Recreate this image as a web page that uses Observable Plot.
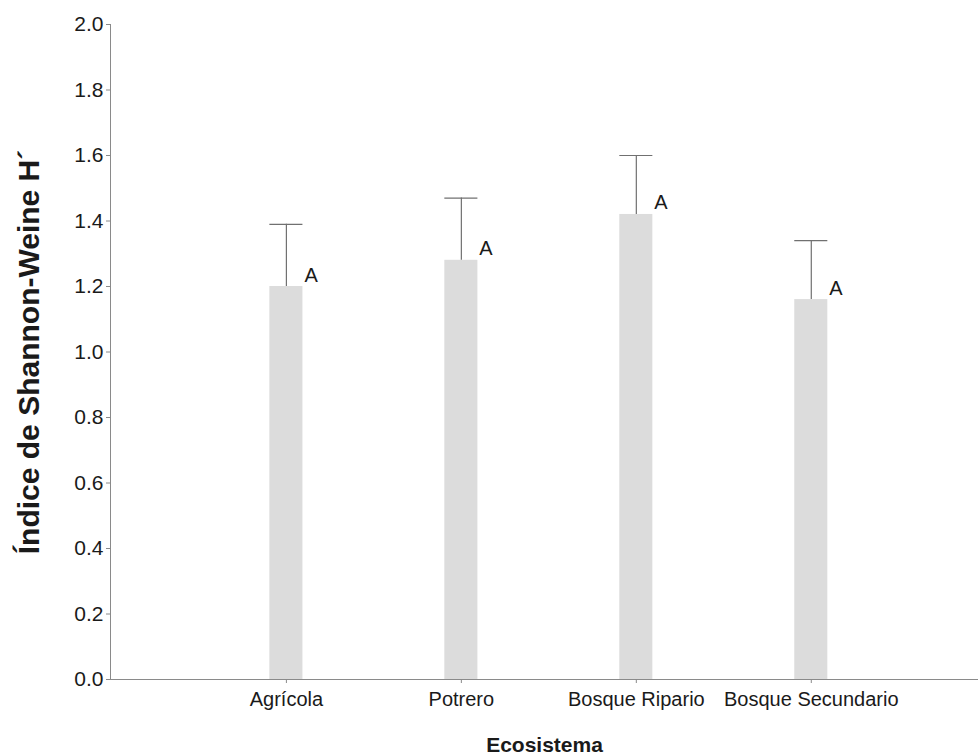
<!DOCTYPE html>
<html>
<head>
<meta charset="utf-8">
<script src="https://cdn.jsdelivr.net/npm/d3@7"></script>
<script src="https://cdn.jsdelivr.net/npm/@observablehq/plot@0.6"></script>
<style>
  html, body { margin: 0; padding: 0; background: #fff; }
</style>
</head>
<body>
<div id="chart"></div>
<script>
const categories = ["Agrícola", "Potrero", "Bosque Ripario", "Bosque Secundario"];
const means = [1.20, 1.28, 1.42, 1.16];
const upper = [1.39, 1.47, 1.60, 1.34];
const letters = ["A", "A", "A", "A"];
const yTicks = [0, 0.2, 0.4, 0.6, 0.8, 1.0, 1.2, 1.4, 1.6, 1.8, 2.0];

const data = categories.map((c, i) => ({eco: c, h: means[i], hi: upper[i], letter: letters[i]}));

const axisColor = "#8a8a8a";
const textColor = "#1a1a1a";

const chart = Plot.plot({
  width: 978,
  height: 755,
  marginLeft: 110,
  marginRight: 0,
  marginTop: 24,
  marginBottom: 76,
  style: {fontFamily: "'Liberation Sans', Arial, sans-serif", background: "#fff"},
  x: {type: "band", domain: categories, paddingInner: 0.811, paddingOuter: 0.886, align: 0.514, round: false, label: null},
  y: {domain: [0, 2], label: null},
  marks: [
    Plot.barY(data, {x: "eco", y: "h", fill: "#dcdcdc"}),
    Plot.ruleX(data, {x: "eco", y1: "h", y2: "hi", stroke: "#707070", strokeWidth: 1.2}),
    Plot.tickY(data, {x: "eco", y: "hi", stroke: "#707070", strokeWidth: 1.2}),
    Plot.text(data, {x: "eco", y: "h", text: "letter", textAnchor: "start", lineAnchor: "bottom", dx: 18, dy: -5, fontSize: 20, fill: textColor}),
    Plot.frame({anchor: "left", stroke: axisColor}),
    Plot.ruleY([0], {stroke: axisColor, strokeWidth: 1.2}),
    Plot.axisY({ticks: yTicks, tickFormat: d3.format(".1f"), tickSize: 4, tickPadding: 3, fontSize: 21, stroke: axisColor, fill: textColor, label: null}),
    Plot.axisX({tickSize: 4, tickPadding: 8, fontSize: 20, stroke: axisColor, fill: textColor, label: null}),
    Plot.text(["Ecosistema"], {frameAnchor: "bottom", dy: 72, lineAnchor: "bottom", fontWeight: "bold", fontSize: 21, fill: textColor}),
    Plot.text(["Índice de Shannon-Weine H´"], {frameAnchor: "left", textAnchor: "middle", lineAnchor: "middle", dx: -81, rotate: -90, fontWeight: "bold", fontSize: 30, fill: textColor})
  ]
});

document.getElementById("chart").appendChild(chart);
</script>
</body>
</html>
